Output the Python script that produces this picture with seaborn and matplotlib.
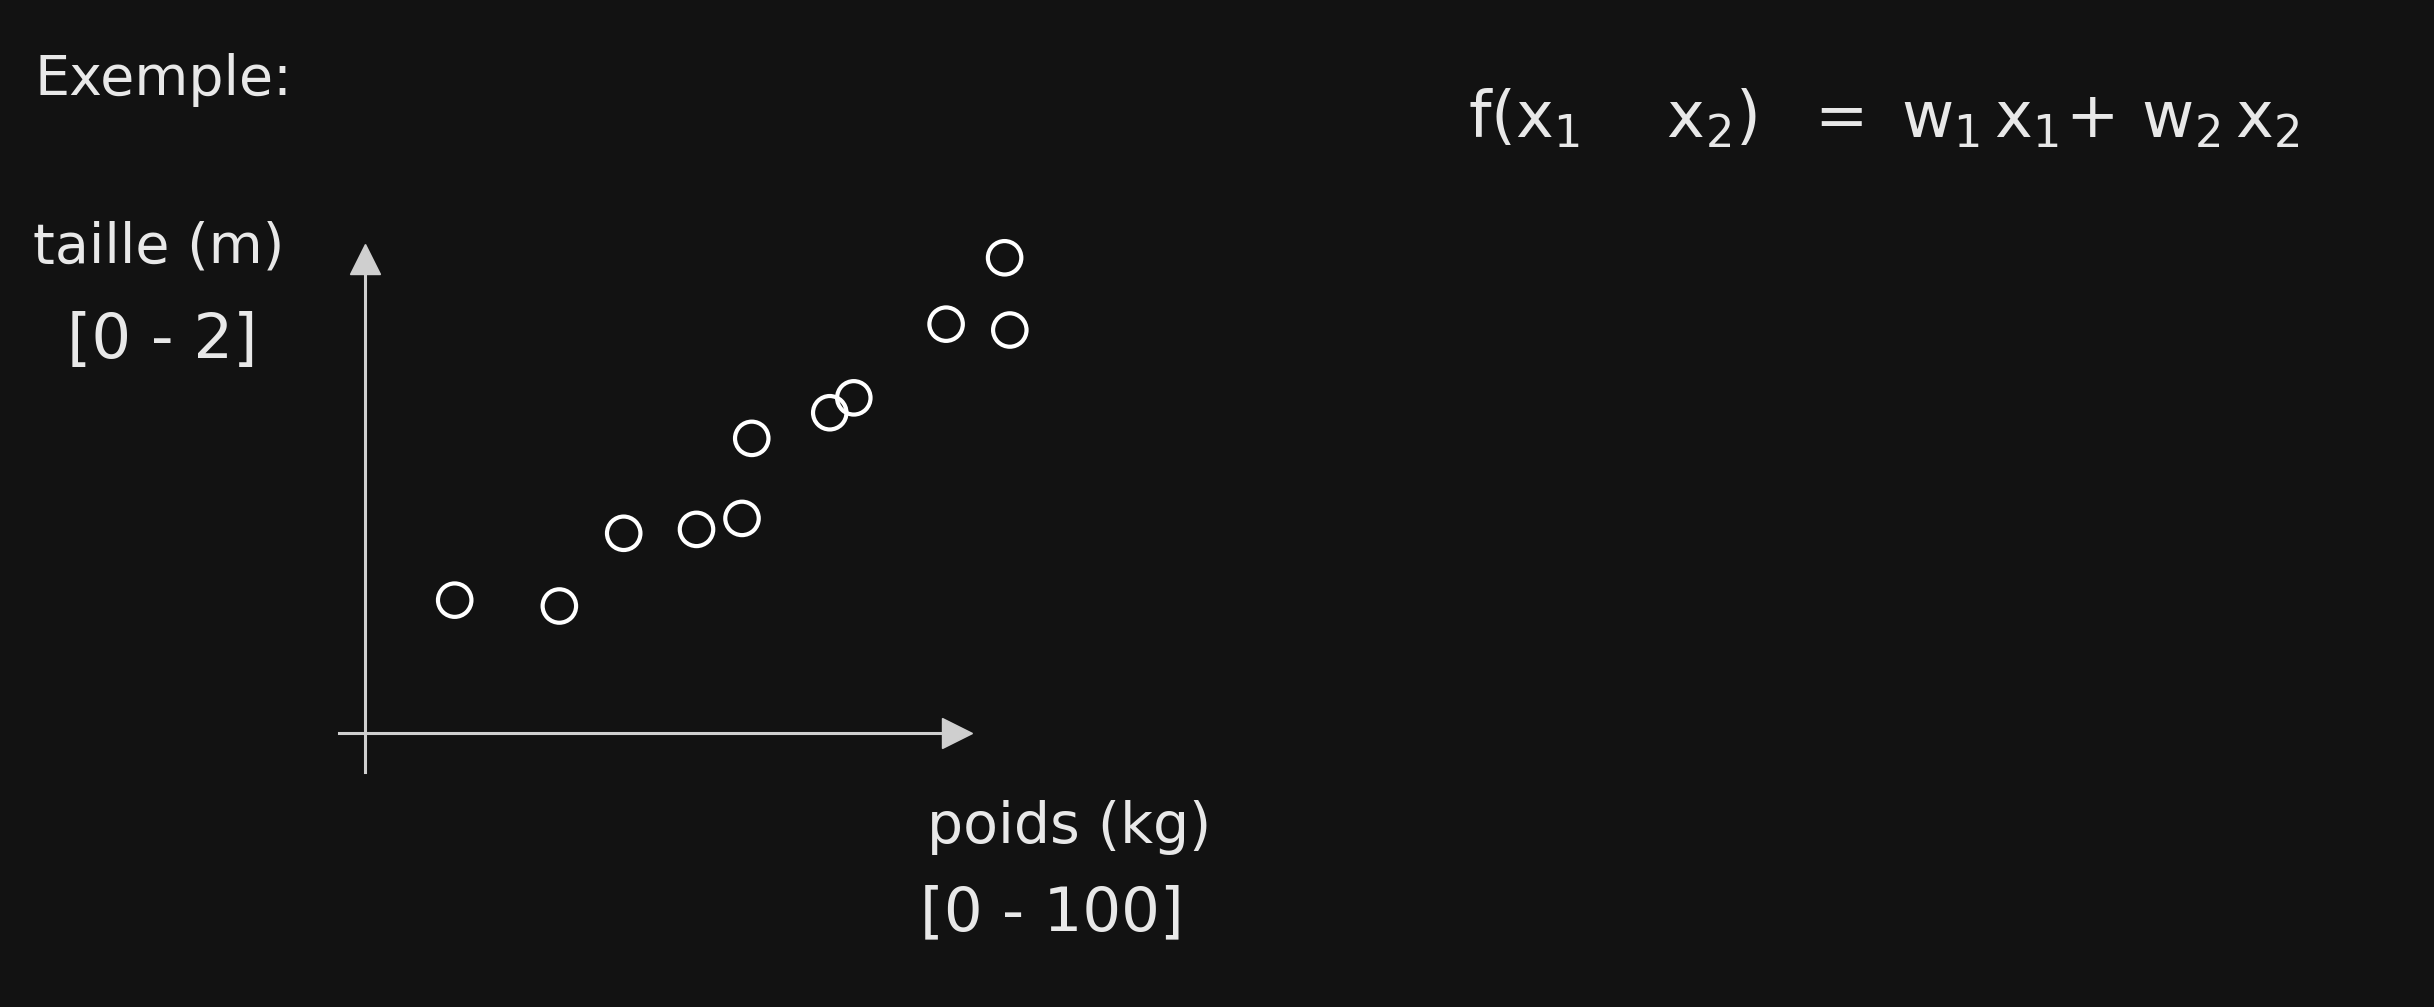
"""Sketch-style scatter: taille vs poids, with a linear model formula."""
import numpy as np
import matplotlib
matplotlib.use("Agg")
import matplotlib.pyplot as plt
import seaborn as sns

W, H = 2434, 1007
BG = "#121212"
INK = "#e8e8e8"
AXIS = "#cfcfcf"

# points
poids_kg = [13.8, 29.9, 39.8, 51.0, 58.0, 59.5, 71.5, 75.2, 89.4, 98.4, 99.2]
taille_m = [0.546, 0.522, 0.820, 0.836, 0.881, 1.209, 1.314, 1.375, 1.677, 1.949, 1.653]

XLIM = (-4.0, 91.03)
YLIM = (-0.157, 1.944)


def px(x, y):
    """pixel position (top-left origin) -> figure fraction"""
    return x / W, 1 - y / H


def main() -> int:
    sns.set_theme(style="white")
    plt.rcParams["font.family"] = ["DejaVu Sans"]
    fig = plt.figure(figsize=(W / 100, H / 100), dpi=100, facecolor=BG)

    # axes box in pixels: left 339, right 956.7, top 259, bottom 771.7
    l, b = px(339, 771.7)
    r, t = px(956.7, 259)
    ax = fig.add_axes([l, b, r - l, t - b])
    ax.set_facecolor(BG)

    sns.scatterplot(x=poids_kg, y=taille_m, ax=ax, s=580, marker="o",
                    facecolors="none", edgecolor="white", linewidth=3.0,
                    clip_on=False, legend=False, zorder=3)
    ax.collections[0].set_facecolor("none")

    ax.set_xlim(*XLIM)
    ax.set_ylim(*YLIM)
    for side in ["top", "right"]:
        ax.spines[side].set_visible(False)
    for side in ["left", "bottom"]:
        ax.spines[side].set_position(("data", 0))
        ax.spines[side].set_color(AXIS)
        ax.spines[side].set_linewidth(2.2)
    ax.set_xticks([])
    ax.set_yticks([])
    # arrow heads on the axes
    ax.plot(1, 0, ">", transform=ax.get_yaxis_transform(), clip_on=False,
            ms=21, color=AXIS, mec=AXIS)
    ax.plot(0, 1, "^", transform=ax.get_xaxis_transform(), clip_on=False,
            ms=21, color=AXIS, mec=AXIS)

    txt = dict(color=INK, ha="left")
    fig.text(*px(35, 95), "Exemple:", fontsize=40, va="baseline", **txt)
    fig.text(*px(33, 262), "taille (m)", fontsize=40, va="baseline", **txt)
    fig.text(*px(67, 341), "[0 - 2]", fontsize=45, va="center", **txt)
    fig.text(*px(927, 843), "poids (kg)", fontsize=41, va="baseline", **txt)
    fig.text(*px(920, 914), "[0 - 100]", fontsize=44, va="center", **txt)
    fig.text(*px(1468, 137),
             r"$\mathrm{f(x_{1}\ \ \ \ x_{2})\ \ =\ w_{1}\,x_{1}\!+\,w_{2}\,x_{2}}$",
             fontsize=46, va="baseline", **txt)

    fig.savefig("out.png", dpi=100, facecolor=BG)
    plt.close(fig)
    return 0


if __name__ == "__main__":
    raise SystemExit(main())
